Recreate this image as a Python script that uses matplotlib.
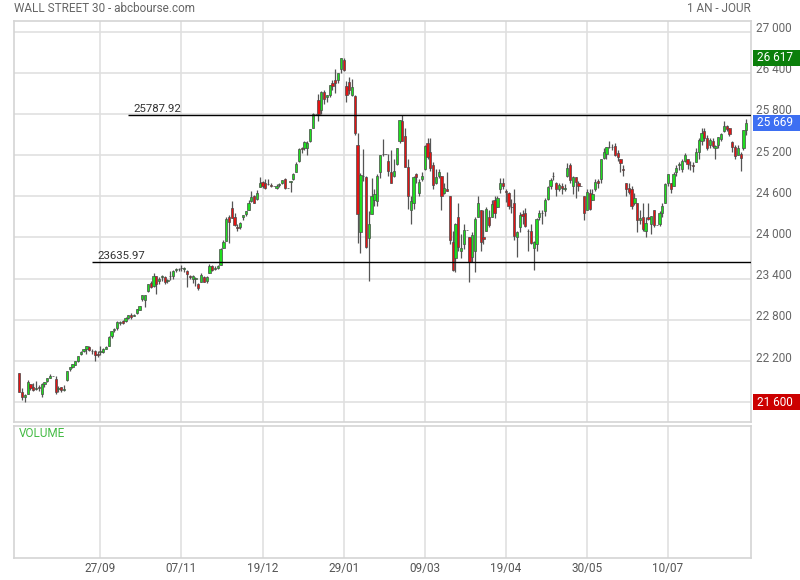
import numpy as np
import pandas as pd
import matplotlib
matplotlib.use("Agg")
import matplotlib.pyplot as plt
from matplotlib import transforms
from matplotlib.patches import Rectangle

plt.rcParams['font.family'] = ['Roboto', 'DejaVu Sans']

# daily bars, 17/08/2017 -> 17/08/2018 (no bar for 23/11/2017 in the source)
days = pd.bdate_range('2017-08-17', '2018-08-17')
days = days[days != pd.Timestamp('2017-11-23')]

opens = [
    22020, 21752, 21674, 21720, 21860, 21830, 21800, 21830, 21720, 21860,
    21910, 21960, 21988, 21940, 21790, 21820, 21780, 21920, 22080, 22110,
    22150, 22200, 22300, 22350, 22370, 22410, 22340, 22340, 22300, 22330,
    22330, 22380, 22423, 22565, 22650, 22680, 22760, 22790, 22790, 22830,
    22870, 22860, 22900, 22950, 23100, 23090, 23220, 23340, 23290, 23440,
    23360, 23420, 23420, 23370, 23435, 23440, 23520, 23540, 23560, 23540,
    23510, 23440, 23400, 23400, 23330, 23350, 23430, 23370, 23480, 23590,
    23540, 23560, 23600, 23850, 23950, 24305, 24424, 24300, 24160, 24160,
    24300, 24340, 24400, 24530, 24600, 24560, 24740, 24810, 24790, 24780,
    24770, 24754, 24720, 24760, 24800, 24850, 24719, 24810, 24850, 24960,
    25115, 25300, 25310, 25310, 25400, 25600, 25803, 26000, 25850, 26120,
    26050, 26070, 26250, 26300, 26300, 26450, 26590, 26200, 26270, 26080,
    26060, 25340, 24085, 24900, 24880, 23990, 24340, 24540, 24530, 24950,
    25210, 25219, 25120, 24960, 24900, 25070, 25400, 25700, 25480, 25020,
    24400, 24500, 24920, 24650, 24850, 25000, 25380, 25250, 25050, 24800,
    24900, 24900, 24650, 24700, 24600, 23940, 23700, 24300, 23800, 23900,
    24103, 24000, 23720, 23800, 24300, 24400, 24000, 24100, 24300, 24300,
    24550, 24450, 24700, 24800, 24680, 24650, 24450, 24500, 24000, 24150,
    24340, 24350, 24100, 24100, 23850, 23900, 24300, 24350, 24380, 24560,
    24750, 24900, 24800, 24700, 24750, 24700, 24900, 25050, 24750, 24880,
    24800, 24753, 24600, 24400, 24650, 24550, 24700, 24820, 24850, 25160,
    25220, 25320, 25320, 25330, 25230, 25150, 25000, 24800, 24720, 24700,
    24500, 24500, 24260, 24300, 24100, 24300, 24200, 24400, 24175, 24200,
    24350, 24500, 24800, 24800, 24750, 24950, 25050, 25000, 25120, 25150,
    25060, 25050, 25100, 25240, 25400, 25550, 25450, 25350, 25400, 25300,
    25350, 25440, 25550, 25620, 25590, 25390, 25320, 25200, 25215, 25300,
    25560,
]

highs = [
    22025, 21810, 21726, 21918, 21870, 21880, 21910, 21850, 21880, 21900,
    21960, 22015, 21988, 21980, 21840, 21830, 21845, 22060, 22120, 22160,
    22205, 22270, 22340, 22375, 22415, 22420, 22380, 22360, 22350, 22415,
    22385, 22420, 22565, 22645, 22685, 22777, 22780, 22800, 22847, 22873,
    22905, 22890, 22960, 23002, 23167, 23163, 23329, 23368, 23485, 23441,
    23420, 23450, 23440, 23400, 23517, 23531, 23557, 23560, 23602, 23564,
    23520, 23460, 23454, 23432, 23340, 23480, 23440, 23440, 23617, 23600,
    23580, 23600, 23850, 23970, 24293, 24322, 24534, 24350, 24200, 24230,
    24330, 24390, 24550, 24670, 24620, 24690, 24877, 24825, 24850, 24850,
    24790, 24754, 24780, 24800, 24840, 24860, 24719, 24825, 24940, 25100,
    25300, 25311, 25400, 25400, 25575, 25810, 25803, 26086, 26130, 26154,
    26080, 26215, 26300, 26460, 26400, 26617, 26610, 26275, 26340, 26310,
    26070, 25520, 24946, 25294, 24900, 24382, 24860, 24700, 24925, 25200,
    25432, 25219, 25220, 25270, 25150, 25310, 25710, 25788, 25600, 25150,
    24600, 24900, 24940, 24850, 24950, 25340, 25450, 25450, 25100, 25000,
    25000, 24900, 24800, 24950, 24600, 24100, 24210, 24500, 24050, 24200,
    24103, 24000, 24080, 24300, 24600, 24400, 24400, 24450, 24400, 24540,
    24600, 24600, 24860, 24860, 24700, 24660, 24560, 24700, 24100, 24370,
    24400, 24430, 24120, 24200, 23950, 24290, 24400, 24400, 24580, 24750,
    24860, 24960, 24810, 24800, 24800, 24780, 25090, 25090, 24900, 24880,
    24830, 24753, 24600, 24700, 24700, 24700, 24850, 24850, 25150, 25300,
    25320, 25400, 25360, 25380, 25280, 25150, 25050, 24800, 24800, 24750,
    24650, 24500, 24400, 24500, 24300, 24500, 24320, 24400, 24175, 24380,
    24500, 24800, 24920, 24800, 24950, 25050, 25100, 25150, 25230, 25150,
    25120, 25100, 25300, 25450, 25600, 25600, 25500, 25450, 25450, 25350,
    25470, 25520, 25700, 25640, 25600, 25410, 25350, 25350, 25250, 25560,
    25725,
]

lows = [
    21750, 21640, 21600, 21715, 21780, 21760, 21780, 21770, 21680, 21830,
    21890, 21950, 21988, 21720, 21750, 21745, 21770, 21910, 22050, 22100,
    22140, 22180, 22290, 22330, 22300, 22340, 22310, 22200, 22260, 22290,
    22315, 22370, 22420, 22540, 22630, 22660, 22730, 22745, 22775, 22820,
    22815, 22850, 22890, 22940, 23080, 22990, 23210, 23264, 23280, 23170,
    23320, 23360, 23320, 23340, 23380, 23400, 23500, 23510, 23510, 23500,
    23280, 23400, 23340, 23290, 23242, 23350, 23355, 23340, 23480, 23510,
    23530, 23540, 23600, 23840, 23950, 23922, 24278, 24170, 24100, 24130,
    24250, 24310, 24400, 24520, 24500, 24540, 24740, 24720, 24700, 24760,
    24730, 24754, 24710, 24740, 24780, 24710, 24719, 24660, 24840, 24950,
    25100, 25235, 25270, 25200, 25390, 25590, 25803, 25700, 25800, 25940,
    25970, 26050, 26150, 26100, 26250, 26400, 26420, 25980, 26090, 26060,
    25490, 23924, 23778, 24816, 23850, 23360, 24340, 24460, 24460, 24870,
    25180, 25219, 24900, 24790, 24880, 25050, 25380, 25400, 25020, 24420,
    24200, 24410, 24800, 24600, 24830, 24990, 25150, 24970, 24700, 24780,
    24860, 24400, 24630, 24680, 23900, 23510, 23500, 23800, 23700, 23830,
    24103, 23345, 23650, 23500, 24300, 23800, 23900, 24100, 24150, 24300,
    24290, 24440, 24650, 24700, 24520, 24410, 24360, 23970, 23720, 24080,
    24200, 24160, 23800, 23910, 23530, 23800, 24250, 24200, 24320, 24550,
    24700, 24840, 24600, 24680, 24640, 24670, 24880, 24800, 24630, 24570,
    24680, 24753, 24250, 24400, 24400, 24550, 24680, 24720, 24800, 25150,
    25150, 25300, 25270, 25180, 25120, 24950, 24900, 24600, 24640, 24420,
    24480, 24085, 24200, 24100, 24000, 24250, 24050, 24150, 24175, 24170,
    24300, 24500, 24750, 24650, 24750, 24900, 24980, 24950, 25100, 25000,
    24980, 24950, 25100, 25150, 25350, 25400, 25280, 25300, 25300, 25150,
    25300, 25400, 25540, 25550, 25480, 25240, 25150, 25200, 24965, 25280,
    25500,
]

closes = [
    21751, 21675, 21704, 21900, 21812, 21783, 21814, 21808, 21865, 21892,
    21948, 21988, 21988, 21753, 21808, 21785, 21798, 22057, 22119, 22158,
    22203, 22268, 22331, 22371, 22413, 22359, 22350, 22296, 22284, 22341,
    22381, 22405, 22558, 22642, 22662, 22775, 22774, 22761, 22831, 22873,
    22841, 22872, 22957, 22997, 23158, 23163, 23329, 23274, 23442, 23329,
    23401, 23434, 23349, 23377, 23435, 23516, 23539, 23548, 23557, 23563,
    23462, 23422, 23440, 23409, 23271, 23458, 23358, 23430, 23591, 23526,
    23558, 23581, 23837, 23941, 24272, 24232, 24290, 24181, 24141, 24211,
    24329, 24386, 24505, 24585, 24509, 24652, 24792, 24755, 24727, 24782,
    24754, 24754, 24746, 24774, 24838, 24719, 24719, 24824, 24923, 25075,
    25296, 25283, 25386, 25369, 25575, 25803, 25803, 25793, 26116, 26018,
    26072, 26215, 26211, 26252, 26393, 26617, 26439, 26077, 26149, 26187,
    25521, 24346, 24913, 24893, 23860, 24191, 24601, 24640, 24893, 25200,
    25219, 25219, 24965, 24798, 24962, 25310, 25709, 25410, 25029, 24609,
    24538, 24875, 24884, 24801, 24895, 25336, 25179, 25007, 24758, 24874,
    24947, 24611, 24727, 24682, 23958, 23533, 24203, 23858, 23848, 24103,
    24103, 23644, 24033, 24264, 24505, 23933, 23979, 24408, 24189, 24483,
    24360, 24573, 24787, 24748, 24665, 24463, 24449, 24024, 24084, 24322,
    24311, 24163, 24099, 23925, 23930, 24263, 24357, 24360, 24543, 24740,
    24831, 24899, 24706, 24769, 24714, 24715, 25013, 24834, 24887, 24812,
    24753, 24753, 24361, 24668, 24416, 24635, 24814, 24800, 25146, 25241,
    25317, 25322, 25321, 25201, 25175, 25090, 24987, 24700, 24658, 24462,
    24581, 24253, 24283, 24118, 24216, 24271, 24307, 24175, 24175, 24357,
    24456, 24777, 24920, 24700, 24925, 25019, 25064, 25120, 25199, 25065,
    25058, 25044, 25242, 25414, 25527, 25451, 25307, 25415, 25334, 25326,
    25463, 25502, 25629, 25584, 25509, 25313, 25188, 25300, 25162, 25559,
    25669,
]

price_ticks = [21600, 22200, 22800, 23400, 24000, 24600, 25200, 25800, 26400, 27000]
date_ticks = ['27/09', '07/11', '19/12', '29/01', '09/03', '19/04', '30/05', '10/07']

levels = [25787.92, 23635.97]
level_starts = ['11/10', '22/09']
last_value = 25669
max_value = 26617
min_value = 21600

o = np.array(opens)
h = np.array(highs)
l = np.array(lows)
c = np.array(closes)
x = np.arange(len(days))
labels = list(days.strftime('%d/%m'))
tick_pos = [labels.index(d) for d in date_ticks]

fig = plt.figure(figsize=(8, 5.8), dpi=100)
W, H = 800, 580
ax = fig.add_axes([14 / W, 1 - 422 / H, 737 / W, 401 / H])
axv = fig.add_axes([14 / W, 1 - 557.7 / H, 737 / W, 132 / H])

xlim = (-1.9, 261.7)
for a in (ax, axv):
    a.set_xlim(*xlim)
    a.set_xticks(tick_pos)
    a.tick_params(length=0, labelleft=False, labelbottom=False)
    a.grid(True, color='#e0e0e0', lw=1.2)
    a.set_axisbelow(True)
    for s in a.spines.values():
        s.set_color('#d4d4d4')
        s.set_linewidth(1.2)
ax.set_ylim(21313, 27153)
ax.set_yticks(price_ticks)
axv.set_yticks([])
axv.set_ylim(0, 1)
axv.set_xticklabels(date_ticks)
axv.tick_params(labelbottom=True, pad=3, labelsize=8.5, labelcolor='#555555')

# candles
up = c >= o
ax.vlines(x, l, h, color='#555555', lw=0.9, zorder=3)
ax.bar(x, np.abs(c - o), width=0.8, bottom=np.minimum(o, c),
       color=np.where(up, '#1fde1f', '#e31414'),
       edgecolor='#4a4a4a', linewidth=0.5, zorder=4)

# horizontal levels
off = transforms.ScaledTranslation(5 / 100, 1 / 100, fig.dpi_scale_trans)
for v, d in zip(levels, level_starts):
    x0 = labels.index(d)
    ax.hlines(v, x0, xlim[1], color='black', lw=1.0, zorder=5)
    ax.text(x0, v, f'{v:.2f}', transform=ax.transData + off,
            fontsize=8.2, color='#333333', va='bottom', ha='left')

# right side price scale (the lowest one sits under the red min box)
right = transforms.blended_transform_factory(ax.transAxes, ax.transData)
lab_off = transforms.ScaledTranslation(5.5 / 100, 3 / 100, fig.dpi_scale_trans)
for v in price_ticks:
    if v == min_value:
        continue
    ax.text(1.0, v, f'{v:,}'.replace(',', ' '), transform=right + lab_off,
            fontsize=8.5, color='#666666', va='center', ha='left', clip_on=False)

for v, col in [(max_value, '#0b7f0b'), (last_value, '#3d6ff2'), (min_value, '#cc0000')]:
    anchor = transforms.Affine2D() + transforms.ScaledTranslation(1.0, v, right)
    ax.add_patch(Rectangle((1.7, -8), 48, 16, transform=anchor,
                           facecolor=col, edgecolor='none', clip_on=False, zorder=10))
    ax.text(5.7, 0, f'{v:,}'.replace(',', ' '), transform=anchor, fontsize=8.5,
            color='white', va='center', ha='left', clip_on=False, zorder=11)

fig.text(14 / W, 1 - 8.5 / H, 'WALL STREET 30 - abcbourse.com', fontsize=8.5,
         color='#666666', va='center', ha='left')
fig.text(751 / W, 1 - 8.5 / H, '1 AN - JOUR', fontsize=8.5,
         color='#666666', va='center', ha='right')
vol_off = transforms.ScaledTranslation(5 / 100, -7.6 / 100, fig.dpi_scale_trans)
axv.text(0, 1, 'VOLUME', fontsize=8.5, color='#44bb44', va='center',
         ha='left', transform=axv.transAxes + vol_off)

fig.savefig('out.png', dpi=100)
